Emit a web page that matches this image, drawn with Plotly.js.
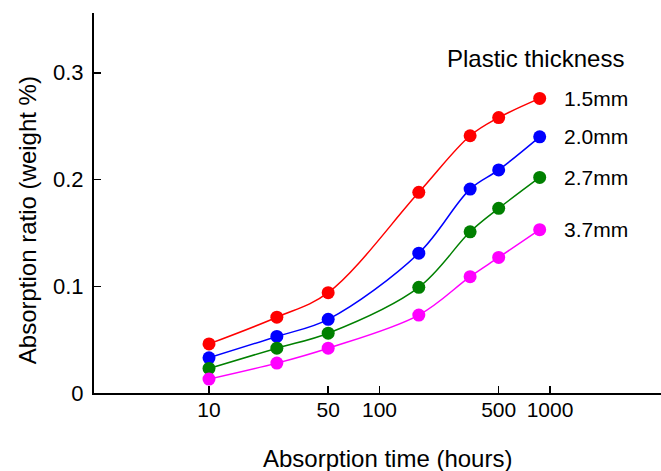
<!DOCTYPE html>
<html>
<head>
<meta charset="utf-8">
<script src="https://cdn.plot.ly/plotly-3.0.1.min.js"></script>
<style>html,body{margin:0;padding:0;background:#fff;}#chart{width:661px;height:471px;}</style>
</head>
<body>
<div id="chart"></div>
<script>
// Absorption time (hours)
const hours = [10, 25, 50, 170, 340, 500, 870];
// Absorption ratio (weight %) per plastic thickness
const thickness15 = [0.046, 0.071, 0.094, 0.188, 0.241, 0.258, 0.276];
const thickness20 = [0.033, 0.053, 0.069, 0.131, 0.191, 0.209, 0.240];
const thickness27 = [0.023, 0.042, 0.056, 0.099, 0.151, 0.173, 0.202];
const thickness37 = [0.013, 0.028, 0.042, 0.073, 0.109, 0.127, 0.153];
const seriesLabels = ["1.5mm", "2.0mm", "2.7mm", "3.7mm"];
const seriesColors = ["#ff0000", "#0000ff", "#008000", "#ff00ff"];
const xTickVals = [10, 50, 100, 500, 1000];
const xTickText = ["10", "50", "100", "500", "1000"];
const yTickVals = [0, 0.1, 0.2, 0.3];
const yTickText = ["0", "0.1", "0.2", "0.3"];

const FONT = "Arial, 'Liberation Sans', sans-serif";
const seriesData = [thickness15, thickness20, thickness27, thickness37];

const traces = seriesData.map((ys, i) => ({
  x: hours, y: ys, type: "scatter", mode: "lines+markers",
  name: seriesLabels[i],
  line: {color: seriesColors[i], width: 1.5, shape: "spline", smoothing: 1},
  marker: {color: seriesColors[i], size: 13},
  cliponaxis: false, hoverinfo: "skip"
}));

const annotations = seriesData.map((ys, i) => ({
  x: Math.log10(hours[hours.length - 1]), y: ys[ys.length - 1],
  xref: "x", yref: "y", text: seriesLabels[i], showarrow: false,
  xanchor: "left", yanchor: "middle", xshift: 22,
  font: {family: FONT, size: 21, color: "#000"}
}));
annotations.push({
  x: 0.7795, y: 0.881, xref: "paper", yref: "paper", text: "Plastic thickness",
  showarrow: false, xanchor: "center", yanchor: "middle",
  font: {family: FONT, size: 24, color: "#000"}
});
annotations.push({
  x: 0.5168, y: -0.1735, xref: "paper", yref: "paper", text: "Absorption time (hours)",
  showarrow: false, xanchor: "center", yanchor: "middle",
  font: {family: FONT, size: 24, color: "#000"}
});
annotations.push({
  x: -0.118, y: 0.455, xref: "paper", yref: "paper", text: "Absorption ratio (weight %)",
  showarrow: false, xanchor: "center", yanchor: "middle", textangle: -90,
  font: {family: FONT, size: 24, color: "#000"}
});

const layout = {
  width: 661, height: 471,
  margin: {l: 94, r: 0, t: 13, b: 78, pad: 0},
  paper_bgcolor: "#fff", plot_bgcolor: "#fff",
  showlegend: false,
  font: {family: FONT, color: "#000"},
  xaxis: {
    type: "log", range: [0.3255, 3.651],
    tickvals: xTickVals, ticktext: xTickText,
    ticks: "inside", ticklen: 7, tickwidth: 1.5, tickcolor: "#000",
    showline: true, linecolor: "#000", linewidth: 2,
    showgrid: false, zeroline: false, ticklabelstandoff: -3,
    tickfont: {family: FONT, size: 21, color: "#000"}
  },
  yaxis: {
    range: [0, 0.356],
    tickvals: yTickVals, ticktext: yTickText,
    ticks: "inside", ticklen: 7, tickwidth: 1.5, tickcolor: "#000",
    showline: true, linecolor: "#000", linewidth: 2,
    showgrid: false, zeroline: false, ticklabelstandoff: 4,
    tickfont: {family: FONT, size: 22, color: "#000"}
  },
  annotations: annotations
};

Plotly.newPlot("chart", traces, layout, {staticPlot: true, displayModeBar: false});
</script>
</body>
</html>
